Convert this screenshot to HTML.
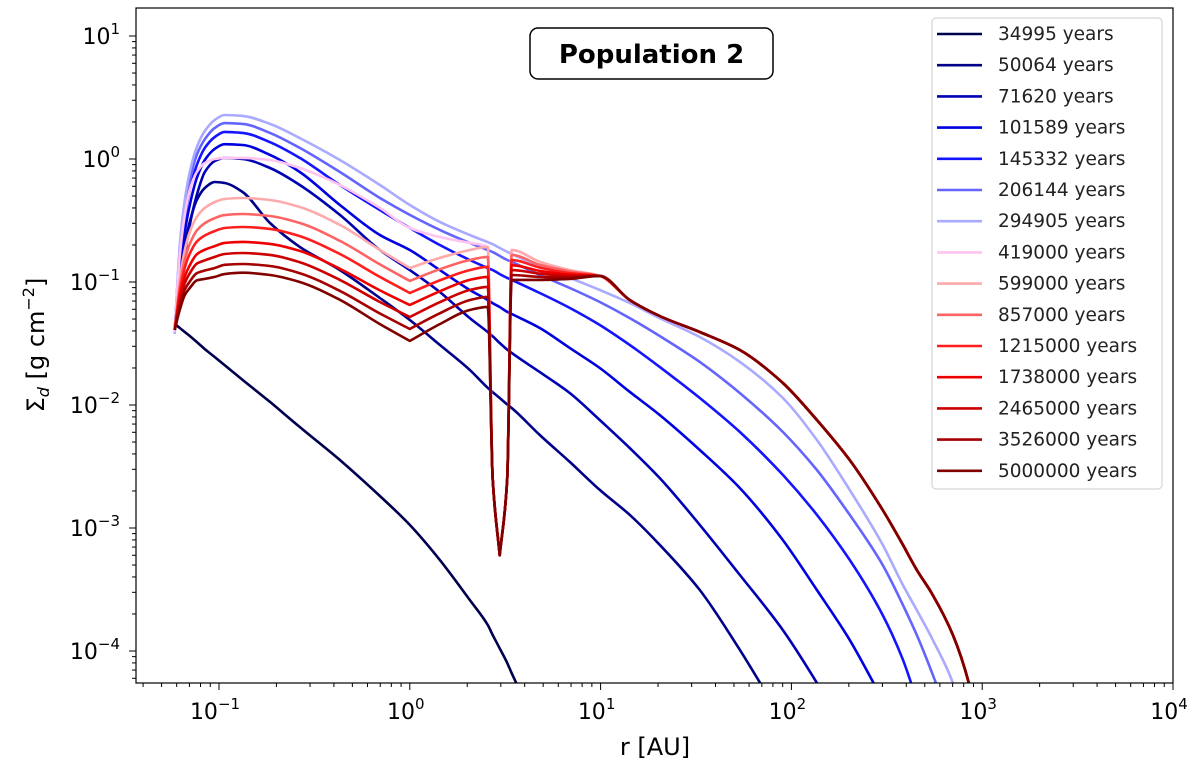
<!DOCTYPE html>
<html><head><meta charset="utf-8"><style>
body{margin:0;background:#fff;}
svg text{font-family:"DejaVu Sans","Liberation Sans",sans-serif;}
</style></head><body>
<svg id="chart" width="1200" height="769" xmlns="http://www.w3.org/2000/svg">
<defs><clipPath id="clip"><rect x="136" y="8" width="1037" height="675"/></clipPath></defs>
<rect x="0" y="0" width="1200" height="769" fill="#fff"/>
<g id="series" clip-path="url(#clip)"></g>
<g id="axes"></g>
<rect x="136" y="8" width="1037" height="675" fill="none" stroke="#000" stroke-width="1.2"/>
<text x="655" y="755" font-size="24" text-anchor="middle">r [AU]</text>
<text transform="translate(44,345) rotate(-90)" font-size="24" text-anchor="middle">Σ<tspan font-size="16" font-style="italic" dy="5">d</tspan><tspan dy="-5"> [g cm</tspan><tspan font-size="16" dy="-10">−2</tspan><tspan dy="10">]</tspan></text>
<g>
<rect x="530" y="28" width="243" height="51" rx="8" fill="#fff" stroke="#000" stroke-width="1.5"/>
<text x="651.5" y="63" font-size="26" font-weight="bold" text-anchor="middle">Population 2</text>
</g>
<g id="legend">
<rect x="932" y="18" width="230" height="471" rx="4" fill="#fff" fill-opacity="0.85" stroke="#ccc" stroke-width="1"/>
</g>
</svg>
<script>
const rGrid=[0.0586,0.0623,0.0662,0.0703,0.0765,0.0843,0.0951,0.107,0.133,0.185,0.265,0.430,0.697,1,1.436,2.062,2.56,2.72,2.96,3.24,3.42,4.80,6.90,9.9,14.2,20.4,33.1,53.7,90.2,136,202,301,384,454,551,702,851,1096];
const labels=["34995 years","50064 years","71620 years","101589 years","145332 years","206144 years","294905 years","419000 years","599000 years","857000 years","1215000 years","1738000 years","2465000 years","3526000 years","5000000 years"];
const colors=["#00004f","#00008a","#0000b4","#0000e0","#1414ff","#6464ff","#aaaaff","#ffc4f0","#ffaaaa","#ff6464","#ff1e1e","#ee0000","#cc0000","#a60000","#800000"];
const s1=[0.0456,0.0423,0.0392,0.0364,0.0325,0.0285,0.0245,0.0211,0.0160,0.0106,0.00662,0.00357,0.00182,0.00106,0.00055,0.00026,0.000163,0.000135,0.000105,0.000080,0.000066,0.000022];
const s2=[0.0407,0.104,0.200,0.308,0.464,0.581,0.650,0.638,0.539,0.302,0.193,0.125,0.0741,0.0491,0.0308,0.0193,0.0138,0.0127,0.0114,0.0101,0.00946,0.0057,0.00344,0.00204,0.00128,0.00073,0.000313,0.000102,0.000027];
const s3=[0.0407,0.0861,0.166,0.291,0.510,0.784,0.963,1.02,1.0,0.845,0.615,0.351,0.182,0.125,0.0829,0.0509,0.0392,0.0362,0.0319,0.0282,0.0265,0.0185,0.0125,0.00755,0.00447,0.00255,0.00106,0.000415,0.000148,0.000055,0.000019];
const s4=[0.0407,0.121,0.255,0.423,0.701,0.981,1.21,1.32,1.30,1.08,0.784,0.423,0.241,0.182,0.125,0.0861,0.0714,0.0672,0.0626,0.0572,0.0549,0.0423,0.0290,0.0200,0.0128,0.00829,0.00431,0.00211,0.000798,0.000313,0.000123,0.00004];
const s5=[0.0407,0.157,0.331,0.560,0.894,1.23,1.51,1.66,1.63,1.37,1.02,0.615,0.385,0.275,0.200,0.151,0.130,0.125,0.116,0.108,0.104,0.0814,0.0615,0.0447,0.0308,0.0204,0.0114,0.00603,0.0027,0.00128,0.00055,0.000196,0.000085,0.00004];
const s6=[0.0392,0.182,0.400,0.675,1.08,1.45,1.79,1.96,1.93,1.63,1.23,0.784,0.482,0.351,0.265,0.208,0.182,0.175,0.163,0.151,0.146,0.114,0.0894,0.0688,0.0509,0.0364,0.0224,0.0125,0.00603,0.00296,0.00128,0.0005,0.000237,0.000135,0.000064,0.000023];
const s7=[0.0378,0.200,0.464,0.784,1.25,1.69,2.08,2.28,2.24,1.93,1.48,0.981,0.615,0.423,0.308,0.241,0.211,0.203,0.189,0.176,0.169,0.135,0.108,0.0861,0.0675,0.0509,0.0357,0.0224,0.0114,0.00519,0.00204,0.00073,0.000344,0.000215,0.000123,0.000055,0.000019];
const s8=[0.0392,0.166,0.351,0.560,0.784,0.928,1.0,1.02,1.02,0.981,0.845,0.615,0.400,0.275,0.232,0.208,0.193,0.0025,0.0006,0.0025,0.182,0.146,0.125,0.112,0.0714,0.0529,0.0392,0.028,0.0151,0.00755,0.00357,0.0014,0.00073,0.000456,0.000285,0.000135,0.000055,0.0000074];
const s9=[0.0407,0.104,0.182,0.255,0.338,0.400,0.447,0.473,0.482,0.464,0.407,0.291,0.182,0.130,0.157,0.182,0.193,0.0025,0.0006,0.0025,0.182,0.146,0.125,0.112,0.0714,0.0529,0.0392,0.028,0.0151,0.00755,0.00357,0.0014,0.00073,0.000456,0.000285,0.000135,0.000055,0.0000074];
const s10=[0.0407,0.0922,0.152,0.204,0.262,0.301,0.331,0.350,0.357,0.344,0.302,0.216,0.139,0.102,0.127,0.151,0.160,0.0025,0.0006,0.0025,0.166,0.138,0.122,0.112,0.0714,0.0529,0.0392,0.028,0.0151,0.00755,0.00357,0.0014,0.00073,0.000456,0.000285,0.000135,0.000055,0.0000074];
const s11=[0.0407,0.0837,0.131,0.170,0.213,0.239,0.260,0.275,0.280,0.270,0.236,0.169,0.110,0.0814,0.103,0.125,0.133,0.0025,0.0006,0.0025,0.151,0.131,0.118,0.112,0.0714,0.0529,0.0392,0.028,0.0151,0.00755,0.00357,0.0014,0.00073,0.000456,0.000285,0.000135,0.000055,0.0000074];
const s12=[0.0407,0.0749,0.111,0.137,0.168,0.183,0.196,0.208,0.212,0.204,0.179,0.128,0.0854,0.065,0.084,0.104,0.110,0.0025,0.0006,0.0025,0.137,0.123,0.115,0.112,0.0714,0.0529,0.0392,0.028,0.0151,0.00755,0.00357,0.0014,0.00073,0.000456,0.000285,0.000135,0.000055,0.0000074];
const s13=[0.0407,0.0688,0.0981,0.118,0.141,0.150,0.160,0.169,0.172,0.166,0.145,0.104,0.0688,0.0519,0.0685,0.0861,0.0913,0.0025,0.0006,0.0025,0.125,0.117,0.112,0.112,0.0714,0.0529,0.0392,0.028,0.0151,0.00755,0.00357,0.0014,0.00073,0.000456,0.000285,0.000135,0.000055,0.0000074];
const s14=[0.0407,0.0634,0.0868,0.101,0.118,0.124,0.130,0.138,0.140,0.135,0.118,0.0847,0.0555,0.0415,0.0557,0.0713,0.0757,0.0025,0.0006,0.0025,0.114,0.110,0.109,0.112,0.0714,0.0529,0.0392,0.028,0.0151,0.00755,0.00357,0.0014,0.00073,0.000456,0.000285,0.000135,0.000055,0.0000074];
const s15=[0.0407,0.0594,0.0784,0.0893,0.103,0.106,0.110,0.116,0.119,0.114,0.100,0.0716,0.0455,0.0332,0.0455,0.0592,0.0627,0.0025,0.0006,0.0025,0.104,0.104,0.106,0.112,0.0714,0.0529,0.0392,0.028,0.0151,0.00755,0.00357,0.0014,0.00073,0.000456,0.000285,0.000135,0.000055,0.0000074];
const xTickExps=[-1,0,1,2,3,4];
const yTickExps=[-4,-3,-2,-1,0,1];

const NS="http://www.w3.org/2000/svg";
const PL=136,PR=1173,PT=8,PB=683;
const X0=219,XD=190.8,Y0=159,YD=123;
function xs(r){return X0+(Math.log10(r)+1)*XD;}
function ys(v){return Y0-Math.log10(v)*YD;}
function mk(tag,attrs,parent){const e=document.createElementNS(NS,tag);for(const k in attrs)e.setAttribute(k,attrs[k]);parent.appendChild(e);return e;}
// smooth curve; sharp corners at local minima of sigma (max pixel y)
function smoothPath(P){
  const n=P.length;if(n<2)return '';
  const d=[];
  for(let i=0;i<n-1;i++)d.push((P[i+1][1]-P[i][1])/(P[i+1][0]-P[i][0]));
  const mL=new Array(n),mR=new Array(n);
  mL[0]=mR[0]=d[0];mL[n-1]=mR[n-1]=d[n-2];
  for(let i=1;i<n-1;i++){
    if(d[i-1]>0&&d[i]<0){mL[i]=d[i-1];mR[i]=d[i];}
    else if(d[i-1]*d[i]<=0){mL[i]=mR[i]=0;}
    else{const w1=2*(P[i+1][0]-P[i][0])+(P[i][0]-P[i-1][0]),w2=(P[i+1][0]-P[i][0])+2*(P[i][0]-P[i-1][0]);mL[i]=mR[i]=(w1+w2)/(w1/d[i-1]+w2/d[i]);}}
  let s='M'+P[0][0].toFixed(1)+','+P[0][1].toFixed(1);
  for(let i=0;i<n-1;i++){const h=P[i+1][0]-P[i][0];
    s+=' C'+(P[i][0]+h/3).toFixed(1)+','+(P[i][1]+mR[i]*h/3).toFixed(1)+' '+(P[i+1][0]-h/3).toFixed(1)+','+(P[i+1][1]-mL[i+1]*h/3).toFixed(1)+' '+P[i+1][0].toFixed(1)+','+P[i+1][1].toFixed(1);}
  return s;}
const series=[s1,s2,s3,s4,s5,s6,s7,s8,s9,s10,s11,s12,s13,s14,s15];
const sg=document.getElementById('series');
series.forEach((vals,i)=>{
  const P=vals.map((v,j)=>[xs(rGrid[j]),ys(v)]);
  const pl=mk('path',{d:smoothPath(P),fill:'none',stroke:colors[i],'stroke-width':2.6,'stroke-linejoin':'round'},sg);
  
  
});
const ax=document.getElementById('axes');
const xmin=Math.pow(10,(PL-X0)/XD-1),xmax=Math.pow(10,(PR-X0)/XD-1);
for(let e=-2;e<=4;e++){for(let m=1;m<10;m++){const r=m*Math.pow(10,e);if(r<xmin*0.999||r>xmax*1.001)continue;const x=xs(r);
  const t=mk('line',{x1:x,x2:x,y1:PB,y2:PB+(m===1?7:4),stroke:'#000','stroke-width':1},ax);
  
  }}
xTickExps.forEach(e=>{const x=xs(Math.pow(10,e));
  const t=mk('text',{x:x-4,y:PB+36,'font-size':22,'text-anchor':'middle'},ax);
  
  
  t.innerHTML='10<tspan font-size="15" dy="-10">'+(e<0?'−'+(-e):e)+'</tspan>';});
const ymin=Math.pow(10,(Y0-PB)/YD),ymax=Math.pow(10,(Y0-PT)/YD);
for(let e=-5;e<=1;e++){for(let m=1;m<10;m++){const v=m*Math.pow(10,e);if(v<ymin||v>ymax)continue;const y=ys(v);
  const t=mk('line',{x1:PL,x2:PL-(m===1?7:4),y1:y,y2:y,stroke:'#000','stroke-width':1},ax);
  
  }}
yTickExps.forEach(e=>{const y=ys(Math.pow(10,e));
  const t=mk('text',{x:PL-16,y:y+8,'font-size':22,'text-anchor':'end'},ax);
  
  
  t.innerHTML='10<tspan font-size="15" dy="-10">'+(e<0?'−'+(-e):e)+'</tspan>';});
const lg=document.getElementById('legend');
labels.forEach((l,i)=>{const y=34+i*31.2;
  const ln=mk('line',{x1:937,x2:982,y1:y,y2:y,stroke:colors[i],'stroke-width':2.6},lg);
  
  
  const t=mk('text',{x:998,y:y+6,'font-size':18.5,fill:'#222'},lg);
  t.textContent=l;
  
  });
</script>
</body></html>
